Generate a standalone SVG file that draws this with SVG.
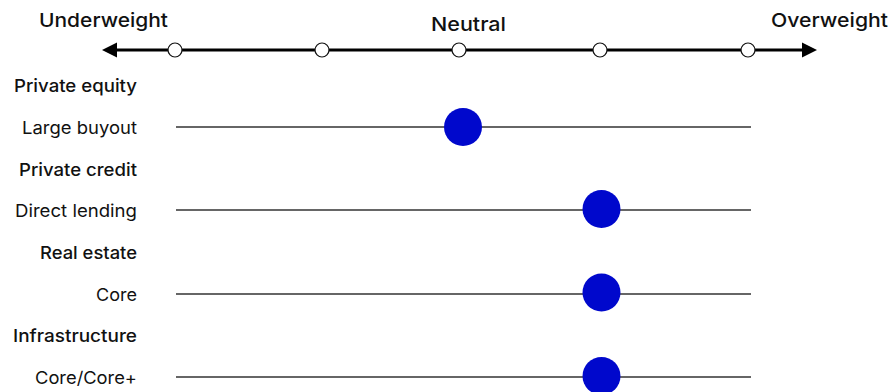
<svg xmlns="http://www.w3.org/2000/svg" width="894" height="392" viewBox="0 0 894 392">
<style>
text{font-family:Inter,"Noto Sans","Liberation Sans",sans-serif;fill:#111}
.ax{font-size:19px;font-weight:500}
.hd{font-size:17.5px;font-weight:500;text-anchor:end}
.lb{font-size:17.5px;font-weight:400;text-anchor:end}
.row{stroke:#333;stroke-width:1.6}
.tick{fill:#fff;stroke:#111;stroke-width:1.2}
.dot{fill:#0008CC}
</style>
<defs>
<marker id="ah" markerWidth="16" markerHeight="16" refX="0" refY="0" viewBox="-1 -8 16 16" orient="auto-start-reverse" markerUnits="userSpaceOnUse">
<path d="M0,-7.5 L15,0 L0,7.5 Z" fill="#000"/>
</marker>
</defs>
<g id="axis">
<line x1="117" y1="50" x2="802" y2="50" stroke="#000" stroke-width="3" marker-start="url(#ah)" marker-end="url(#ah)"/>
<circle class="tick" cx="175" cy="50" r="7"/>
<circle class="tick" cx="322" cy="50" r="7"/>
<circle class="tick" cx="459" cy="50" r="7"/>
<circle class="tick" cx="600" cy="50" r="7"/>
<circle class="tick" cx="748" cy="50" r="7"/>
<text class="ax" x="39" y="27" textLength="129" lengthAdjust="spacingAndGlyphs">Underweight</text>
<text class="ax" x="431" y="31" textLength="75" lengthAdjust="spacingAndGlyphs">Neutral</text>
<text class="ax" x="771" y="27" textLength="117" lengthAdjust="spacingAndGlyphs">Overweight</text>
</g>
<g id="connectors">
<line class="row" x1="176" y1="127" x2="751" y2="127"/>
<line class="row" x1="176" y1="210" x2="751" y2="210"/>
<line class="row" x1="176" y1="294" x2="751" y2="294"/>
<line class="row" x1="176" y1="377" x2="751" y2="377"/>
</g>
<g id="private-equity">
<text class="hd" x="137" y="92" textLength="123" lengthAdjust="spacingAndGlyphs">Private equity</text>
<text class="lb" x="137" y="134" textLength="115" lengthAdjust="spacingAndGlyphs">Large buyout</text>
<circle class="dot" cx="463" cy="127" r="19"/>
</g>
<g id="private-credit">
<text class="hd" x="137" y="176" textLength="118" lengthAdjust="spacingAndGlyphs">Private credit</text>
<text class="lb" x="137" y="217" textLength="122" lengthAdjust="spacingAndGlyphs">Direct lending</text>
<circle class="dot" cx="601.5" cy="209" r="19"/>
</g>
<g id="real-estate">
<text class="hd" x="137" y="259" textLength="97" lengthAdjust="spacingAndGlyphs">Real estate</text>
<text class="lb" x="137" y="301" textLength="41" lengthAdjust="spacingAndGlyphs">Core</text>
<circle class="dot" cx="601.5" cy="292.5" r="19"/>
</g>
<g id="infrastructure">
<text class="hd" x="137" y="342" textLength="124" lengthAdjust="spacingAndGlyphs">Infrastructure</text>
<text class="lb" x="137" y="384" textLength="102" lengthAdjust="spacingAndGlyphs">Core/Core+</text>
<circle class="dot" cx="601.5" cy="376" r="19"/>
</g>
</svg>
